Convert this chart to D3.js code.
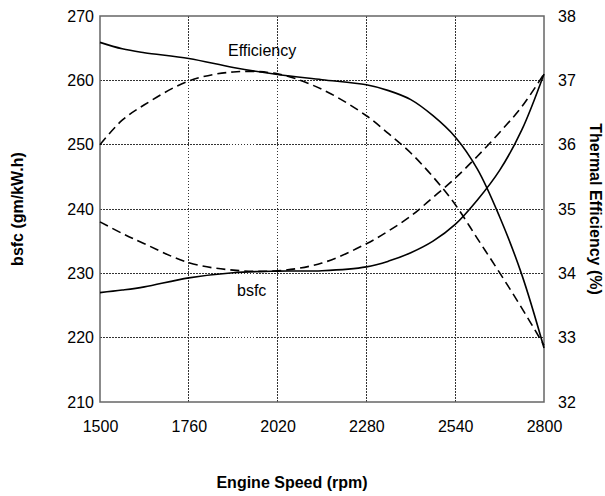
<!DOCTYPE html>
<html>
<head>
<meta charset="utf-8">
<script src="https://cdn.jsdelivr.net/npm/d3@7/dist/d3.min.js"></script>
<style>
  html, body { margin: 0; padding: 0; background: #fff; }
  svg text { font-family: Arial, "Liberation Sans", sans-serif; fill: #000; }
</style>
</head>
<body>
<svg id="chart" width="605" height="496"></svg>
<script>
// Engine speed sample points (rpm)
const speeds = [1500, 1565, 1630, 1760, 1890, 2020, 2150, 2280, 2345, 2410, 2475, 2540, 2605, 2670, 2735, 2800];

// Thermal efficiency (%) — right axis
const efficiencySolid  = [37.59, 37.49, 37.43, 37.34, 37.20, 37.09, 37.01, 36.93, 36.84, 36.70, 36.45, 36.12, 35.62, 34.88, 33.98, 32.84];
const efficiencyDashed = [36.00, 36.38, 36.62, 36.99, 37.13, 37.10, 36.86, 36.45, 36.17, 35.87, 35.50, 35.07, 34.54, 34.01, 33.46, 32.88];

// Brake specific fuel consumption (gm/kW.h) — left axis
const bsfcSolid  = [227.0, 227.4, 227.9, 229.3, 230.1, 230.35, 230.4, 231.0, 231.9, 233.2, 235.0, 237.6, 241.4, 246.0, 252.3, 261.0];
const bsfcDashed = [238.0, 236.2, 234.6, 231.65, 230.5, 230.4, 231.6, 234.6, 236.6, 238.9, 241.8, 244.8, 248.2, 251.9, 255.9, 261.0];

// Tick labels
const xTicks = [1500, 1760, 2020, 2280, 2540, 2800];
const leftTicks = [210, 220, 230, 240, 250, 260, 270];
const rightTicks = [32, 33, 34, 35, 36, 37, 38];

const svg = d3.select("#chart");
const plot = { left: 100, right: 544, top: 16, bottom: 402 };
const fontSize = 16;

const x = d3.scaleLinear().domain([1500, 2800]).range([plot.left, plot.right]);
const yL = d3.scaleLinear().domain([210, 270]).range([plot.bottom, plot.top]);
const yR = d3.scaleLinear().domain([32, 38]).range([plot.bottom, plot.top]);

// Dotted grid
const grid = svg.append("g").attr("class", "grid");
grid.selectAll("line.v").data(xTicks.slice(1, -1)).join("line")
  .attr("x1", d => x(d)).attr("x2", d => x(d))
  .attr("y1", plot.top).attr("y2", plot.bottom);
grid.selectAll("line.h").data(leftTicks.slice(1, -1)).join("line")
  .attr("x1", plot.left).attr("x2", plot.right)
  .attr("y1", d => yL(d)).attr("y2", d => yL(d));
grid.selectAll("line")
  .attr("stroke", "#333").attr("stroke-width", 1).attr("stroke-dasharray", "1.5,1.5")
  .attr("shape-rendering", "crispEdges");

// Plot frame
svg.append("rect")
  .attr("x", plot.left).attr("y", plot.top)
  .attr("width", plot.right - plot.left).attr("height", plot.bottom - plot.top)
  .attr("fill", "none").attr("stroke", "#666").attr("stroke-width", 1.5);

// Axes (labels only)
const xAxis = svg.append("g").attr("transform", `translate(0,${plot.bottom})`)
  .call(d3.axisBottom(x).tickValues(xTicks).tickSize(0).tickPadding(19).tickFormat(d3.format("d")));
const lAxis = svg.append("g").attr("transform", `translate(${plot.left},0)`)
  .call(d3.axisLeft(yL).tickValues(leftTicks).tickSize(0).tickPadding(6).tickFormat(d3.format("d")));
const rAxis = svg.append("g").attr("transform", `translate(${plot.right},0)`)
  .call(d3.axisRight(yR).tickValues(rightTicks).tickSize(0).tickPadding(14).tickFormat(d3.format("d")));
[xAxis, lAxis, rAxis].forEach(a => {
  a.select(".domain").remove();
  a.selectAll("text").attr("font-size", fontSize).attr("font-family", "Arial, 'Liberation Sans', sans-serif").attr("fill", "#000");
});

// Curves
const lineL = d3.line().x((d, i) => x(speeds[i])).y(d => yL(d)).curve(d3.curveCatmullRom.alpha(0.5));
const lineR = d3.line().x((d, i) => x(speeds[i])).y(d => yR(d)).curve(d3.curveCatmullRom.alpha(0.5));

const series = [
  { values: efficiencySolid, line: lineR, dash: null },
  { values: efficiencyDashed, line: lineR, dash: "9,5" },
  { values: bsfcSolid, line: lineL, dash: null },
  { values: bsfcDashed, line: lineL, dash: "9,5" }
];
svg.append("g").selectAll("path").data(series).join("path")
  .attr("d", s => s.line(s.values))
  .attr("fill", "none").attr("stroke", "#000").attr("stroke-width", 1.6)
  .attr("stroke-dasharray", s => s.dash);

// Curve labels
svg.append("text").attr("x", 228).attr("y", 56).attr("font-size", fontSize).text("Efficiency");
svg.append("text").attr("x", 237).attr("y", 296).attr("font-size", fontSize).text("bsfc");

// Axis titles
svg.append("text").attr("x", 292).attr("y", 488).attr("text-anchor", "middle")
  .attr("font-size", fontSize).attr("font-weight", "bold").text("Engine Speed (rpm)");
svg.append("text").attr("transform", `translate(23,${(plot.top + plot.bottom) / 2}) rotate(-90)`)
  .attr("text-anchor", "middle").attr("font-size", fontSize).attr("font-weight", "bold").text("bsfc (gm/kW.h)");
svg.append("text").attr("transform", `translate(590,${(plot.top + plot.bottom) / 2}) rotate(90)`)
  .attr("text-anchor", "middle").attr("font-size", fontSize).attr("font-weight", "bold").text("Thermal Efficiency (%)");
</script>
</body>
</html>
